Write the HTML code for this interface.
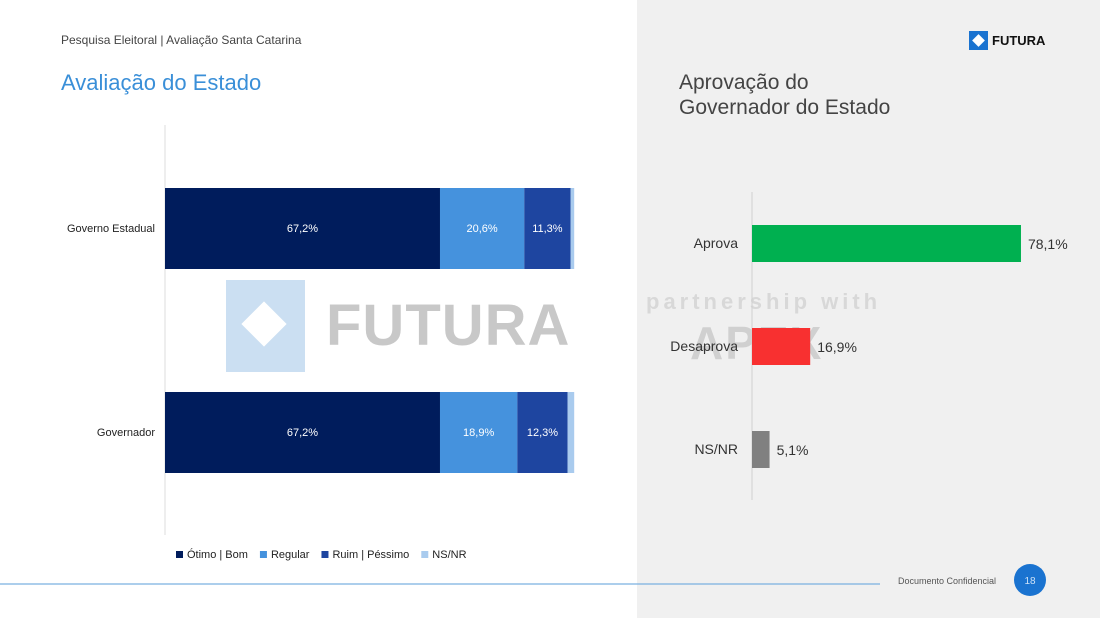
<!DOCTYPE html>
<html><head><meta charset="utf-8"><style>
body{margin:0;width:1100px;height:618px;overflow:hidden;background:#fff;font-family:"Liberation Sans",sans-serif;position:relative}
.a{position:absolute}
</style></head><body>
<div class="a" style="left:637px;top:0;width:463px;height:618px;background:#f0f0f0"></div>
<div class="a" style="left:61px;top:33px;font-size:12px;color:#444">Pesquisa Eleitoral | Avaliação Santa Catarina</div>
<div class="a" style="left:61px;top:70px;font-size:22px;color:#3a8fd8">Avaliação do Estado</div>
<div class="a" style="left:679px;top:70px;font-size:21px;color:#444;line-height:25px">Aprovação do<br>Governador do Estado</div>
<div class="a" style="left:969px;top:31px;display:flex;align-items:center">
<div style="width:19px;height:19px;background:#1a73d0;position:relative"><div style="position:absolute;left:5px;top:5px;width:9px;height:9px;background:#fff;transform:rotate(45deg)"></div></div>
<span style="font-weight:bold;font-size:13px;color:#111;margin-left:4px">FUTURA</span></div>
<!-- watermark -->
<div class="a" style="left:226px;top:280px;width:79px;height:92px;background:#cbdff2"><div style="position:absolute;left:22px;top:28px;width:32px;height:32px;background:#fff;transform:rotate(45deg)"></div></div>
<div class="a" style="left:326px;top:292px;font-size:58px;font-weight:bold;color:#c8c8c8;letter-spacing:1px">FUTURA</div>
<div class="a" style="left:646px;top:289px;font-size:22px;font-weight:bold;color:#d8d8d8;letter-spacing:4px">partnership with</div>
<div class="a" style="left:690px;top:316px;font-size:46px;font-weight:bold;color:rgba(150,150,150,0.35);letter-spacing:2px">APEX</div>
<svg class="a" style="left:0;top:0" width="1100" height="618" id="chart">
<line x1="165" y1="125" x2="165" y2="535" stroke="#ddd"/>
<line x1="752" y1="192" x2="752" y2="500" stroke="#d0d0d0"/>
<line x1="0" y1="584" x2="880" y2="584" stroke="#7ab0e0" stroke-width="1.2"/>
<circle cx="1030" cy="580" r="16" fill="#1a73d0"/>
<text x="1030" y="584" fill="#cfe3f7" font-size="10" text-anchor="middle" font-family="Liberation Sans">18</text>
<text x="898" y="584" fill="#555" font-size="9" font-family="Liberation Sans">Documento Confidencial</text>
</svg>
<script>
const cats=["Governo Estadual","Governador"];
const otimo=[67.2,67.2];
const regular=[20.6,18.9];
const ruim=[11.3,12.3];
const nsnr=[0.9,1.6];
const series=[otimo,regular,ruim,nsnr];
const seriesNames=["Ótimo | Bom","Regular","Ruim | Péssimo","NS/NR"];
const aprovCats=["Aprova","Desaprova","NS/NR"];
const aprovVals=[78.1,16.9,5.1];
const aprovLabels=["78,1%","16,9%","5,1%"];
const svg=document.getElementById('chart');
const NS='http://www.w3.org/2000/svg';
function mk(t,a){const e=document.createElementNS(NS,t);for(const k in a)e.setAttribute(k,a[k]);svg.appendChild(e);return e;}
const colors=["#001c5c","#4592dd","#1e45a0","#a9cbee"];
const xL=v=>165+v*4.092;
const yL=i=>188+i*204;
cats.forEach((c,i)=>{
 let acc=0;
 const t=mk('text',{x:155,y:yL(i)+44,'text-anchor':'end','font-size':11,fill:'#222','font-family':'Liberation Sans'});t.textContent=c;
 
 
 series.forEach((s,j)=>{
  const r=mk('rect',{x:xL(acc),y:yL(i),width:xL(acc+s[i])-xL(acc),height:81,fill:colors[j]});
  
  
  if(j<3){const l=mk('text',{x:(xL(acc)+xL(acc+s[i]))/2,y:yL(i)+44,'text-anchor':'middle','font-size':11,fill:'#fff','font-family':'Liberation Sans'});l.textContent=s[i].toFixed(1).replace('.',',')+'%';
  
  }
  acc+=s[i];
 });
});
let lx=176;
seriesNames.forEach((n,j)=>{
 const r=mk('rect',{x:lx,y:551,width:7,height:7,fill:colors[j]});
 
 
 const t=mk('text',{x:lx+11,y:558,'font-size':11,fill:'#222','font-family':'Liberation Sans'});t.textContent=n;
 
 
 lx+=11+t.getComputedTextLength()+12;
});
const aCol=["#00b050","#f83030","#808080"];
const xR=v=>752+v*3.444;
const yR=i=>225+i*103;
aprovCats.forEach((c,i)=>{
 const t=mk('text',{x:738,y:yR(i)+23,'text-anchor':'end','font-size':14,fill:'#333','font-family':'Liberation Sans'});t.textContent=c;
 
 
 const r=mk('rect',{x:752,y:yR(i),width:xR(aprovVals[i])-752,height:37,fill:aCol[i]});
 
 
 const l=mk('text',{x:xR(aprovVals[i])+7,y:yR(i)+24,'font-size':14,fill:'#333','font-family':'Liberation Sans'});l.textContent=aprovLabels[i];
 
 
});
</script>
</body></html>
